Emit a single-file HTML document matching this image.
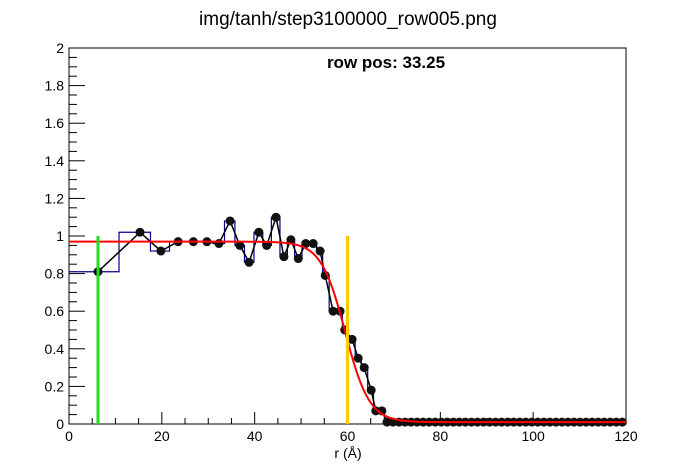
<!DOCTYPE html>
<html><head><meta charset="utf-8"><style>
body{margin:0;background:#fff}
svg{display:block;font-family:"Liberation Sans",sans-serif}
</style></head><body>
<svg id="c" width="696" height="472">
<text x="348" y="25" font-size="19" text-anchor="middle">img/tanh/step3100000_row005.png</text>
<text x="386" y="68" font-size="17" font-weight="bold" text-anchor="middle">row pos: 33.25</text>
<g id="g"></g>
</svg>
<script>
const xs=[6.25,15.3,19.8,23.5,26.8,29.7,32.3,34.7,36.8,38.8,40.9,42.6,44.6,46.3,47.8,49.4,51.0,52.6,54.1,55.2,56.9,58.4,59.4,61.0,62.3,63.6,65.1,66.1,67.4,68.5];
const ys=[0.81,1.02,0.92,0.97,0.97,0.97,0.96,1.08,0.95,0.86,1.02,0.95,1.10,0.89,0.98,0.88,0.96,0.96,0.92,0.79,0.60,0.60,0.50,0.45,0.35,0.30,0.18,0.07,0.07,0.01];
const tailStart=69.8, tailStep=1.3, tailVal=0.01;
const fitTop=0.97, fitMid=59.5, fitWidth=5.2, fitFloor=0.01;
const greenX=6.25, orangeX=60;
const xTicks=[0,20,40,60,80,100,120];
const yTicks=[0,0.2,0.4,0.6,0.8,1,1.2,1.4,1.6,1.8,2];
const X0=69,X1=626,Y0=424,Y1=48;
const sx=v=>X0+v/120*(X1-X0), sy=v=>Y0-v/2*(Y0-Y1);
const g=document.getElementById('g');const NS='http://www.w3.org/2000/svg';
function el(t,a,p){const e=document.createElementNS(NS,t);for(const k in a)e.setAttribute(k,a[k]);(p||g).appendChild(e);return e;}
const px=xs.slice(),py=ys.slice();
for(let x=tailStart;x<=120.01;x+=tailStep){px.push(x);py.push(tailVal);}
let f=el('rect',{x:X0,y:Y1,width:X1-X0,height:Y0-Y1,fill:'none',stroke:'#000','stroke-width':1});


for(let v=0;v<=120.01;v+=5){const big=Math.abs(v%20)<0.01;el('line',{x1:sx(v),x2:sx(v),y1:Y0,y2:Y0-(big?12:6),stroke:'#000'});}
for(let v=0;v<=2.001;v+=0.05){const big=Math.abs(v*5-Math.round(v*5))<0.01;el('line',{y1:sy(v),y2:sy(v),x1:X0,x2:X0+(big?16:8),stroke:'#000'});}
xTicks.forEach(v=>{const t=el('text',{x:sx(v),y:Y0+17,'font-size':14,'text-anchor':'middle'});t.textContent=v;

});
yTicks.forEach(v=>{const t=el('text',{x:X0-5,y:sy(v)+5,'font-size':14,'text-anchor':'end'});t.textContent=String(v);

});
const xt=el('text',{x:348,y:458,'font-size':14,'text-anchor':'middle'});xt.textContent='r (Å)';


let d='';
for(let i=0;i<px.length;i++){const l=i==0?0:(px[i-1]+px[i])/2, r=i==px.length-1?120:(px[i]+px[i+1])/2;d+=(i==0?'M':'L')+sx(l)+' '+sy(py[i])+' L'+sx(r)+' '+sy(py[i]);}
const h=el('path',{d:d,fill:'none',stroke:'#00008b','stroke-width':1.2});


const bl=el('polyline',{points:px.map((x,i)=>sx(x)+','+sy(py[i])).join(' '),fill:'none',stroke:'#000','stroke-width':1.5});


px.forEach((x,i)=>{const c=el('circle',{cx:sx(x),cy:sy(py[i]),r:4.5,fill:'#111'});

});
let fp=[];for(let x=0;x<=120;x+=0.5){const v=fitFloor+(fitTop-fitFloor)/2*(1-Math.tanh((x-fitMid)/fitWidth));fp.push(sx(x)+','+sy(v));}
const fl=el('polyline',{points:fp.join(' '),fill:'none',stroke:'#ff0000','stroke-width':2});


const gl=el('line',{x1:sx(greenX),x2:sx(greenX),y1:sy(0),y2:sy(1),stroke:'#22dd22','stroke-width':3});


const ol=el('line',{x1:sx(orangeX),x2:sx(orangeX),y1:sy(0),y2:sy(1),stroke:'#ffc800','stroke-width':3});


</script>
</body></html>
